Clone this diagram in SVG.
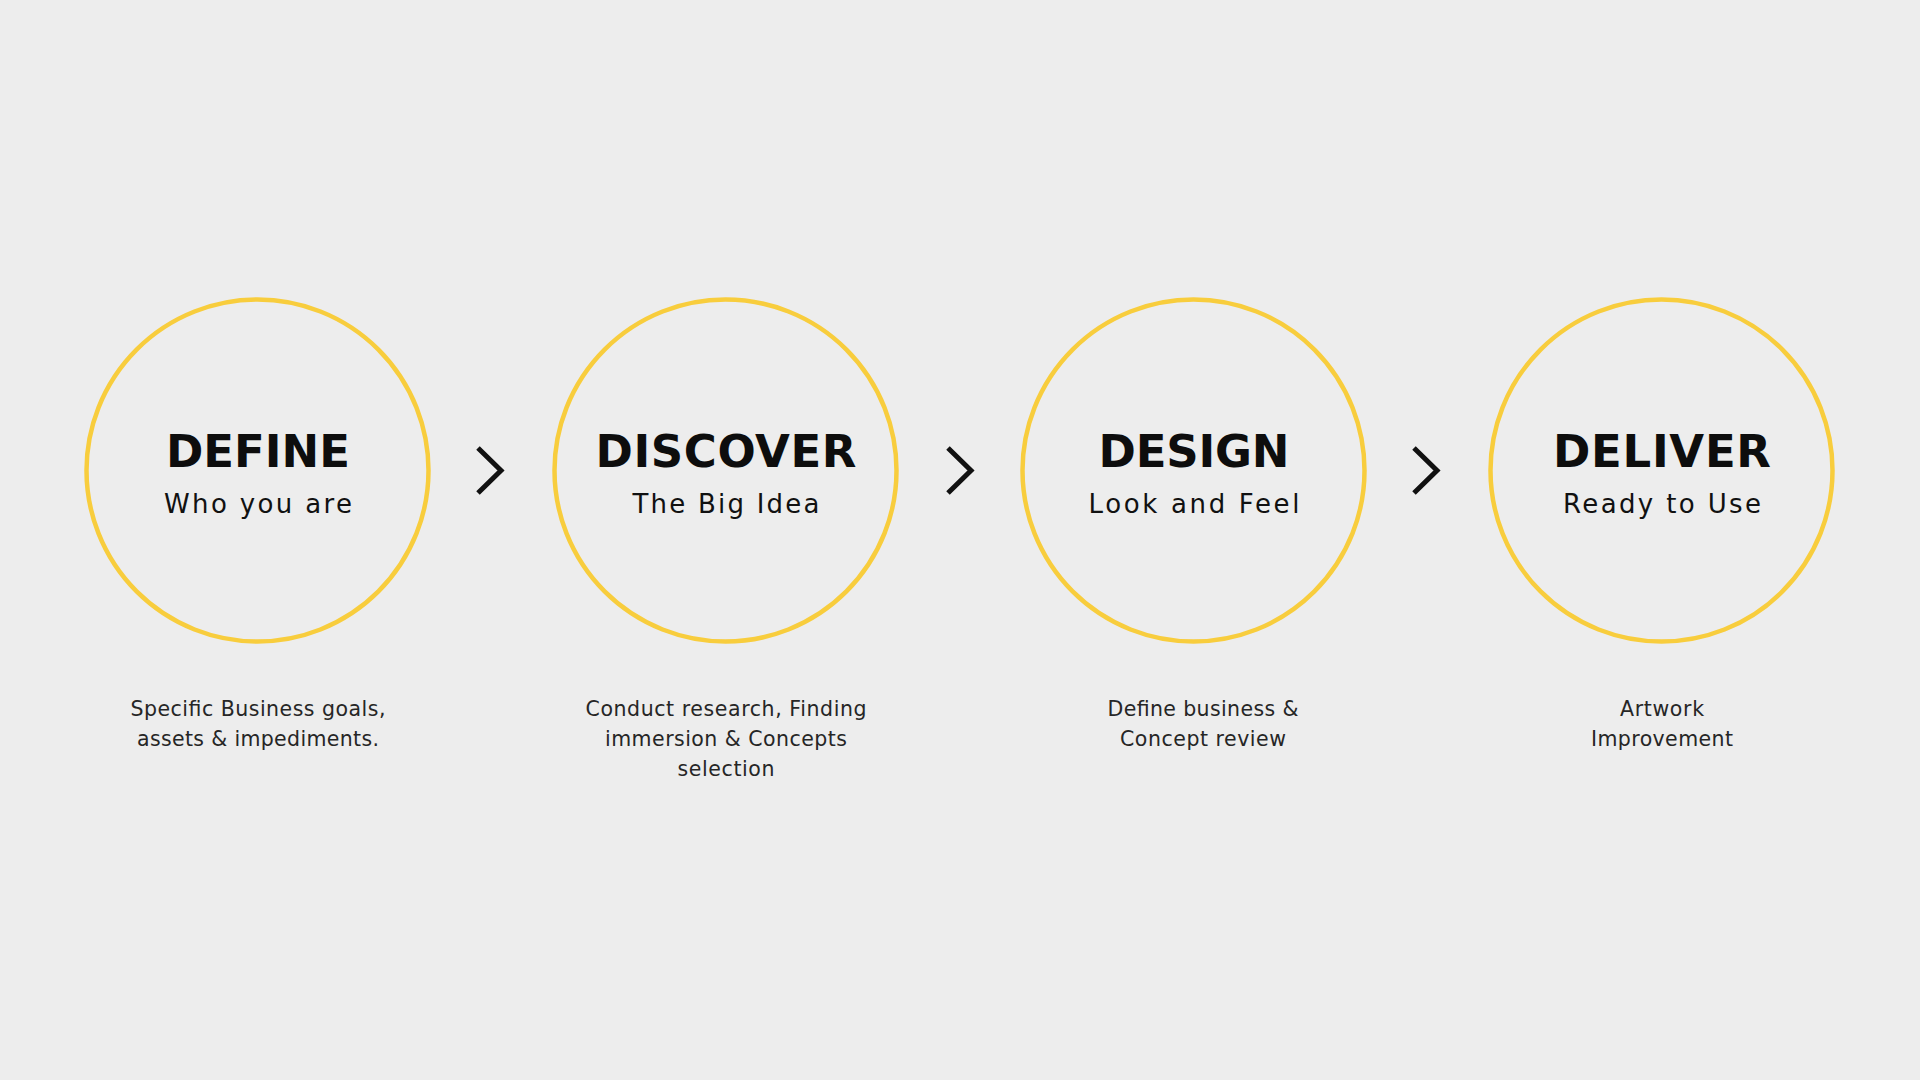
<svg xmlns="http://www.w3.org/2000/svg" width="1920" height="1080" viewBox="0 0 1920 1080">
<style>
.ring{fill:none;stroke:#F8CD3D;stroke-width:4.5}
.title{font-family:"DejaVu Sans","Liberation Sans",sans-serif;font-weight:700;font-size:45px;fill:#0d0d0d;text-anchor:middle}
.sub{font-family:"DejaVu Sans","Liberation Sans",sans-serif;font-weight:400;font-size:26px;fill:#111;text-anchor:middle}
.desc{font-family:"DejaVu Sans","Liberation Sans",sans-serif;font-weight:400;font-size:20.5px;fill:#262626;text-anchor:middle}
.chev{fill:none;stroke:#111;stroke-width:5;stroke-linecap:butt;stroke-linejoin:miter}
</style>
<rect width="1920" height="1080" fill="#EDEDED"/>
<g id="connectors">
<polyline class="chev" points="478,448 501,470.5 478,493"/>
<polyline class="chev" points="948,448 971,470.5 948,493"/>
<polyline class="chev" points="1414,448 1437,470.5 1414,493"/>
</g>
<g id="define">
<circle class="ring" cx="257.5" cy="470.5" r="171"/>
<text class="title" x="258" y="467" textLength="184" lengthAdjust="spacing">DEFINE</text>
<text class="sub" x="258" y="513" textLength="188" lengthAdjust="spacing">Who you are</text>
<text class="desc" x="258" y="716" textLength="255" lengthAdjust="spacing">Specific Business goals,</text>
<text class="desc" x="258" y="746" textLength="242" lengthAdjust="spacing">assets &amp; impediments.</text>
</g>
<g id="discover">
<circle class="ring" cx="725.5" cy="470.5" r="171"/>
<text class="title" x="726" y="467" textLength="261" lengthAdjust="spacing">DISCOVER</text>
<text class="sub" x="726" y="513" textLength="187" lengthAdjust="spacing">The Big Idea</text>
<text class="desc" x="726" y="716" textLength="281" lengthAdjust="spacing">Conduct research, Finding</text>
<text class="desc" x="726" y="746" textLength="242" lengthAdjust="spacing">immersion &amp; Concepts</text>
<text class="desc" x="726" y="776" textLength="97" lengthAdjust="spacing">selection</text>
</g>
<g id="design">
<circle class="ring" cx="1193.5" cy="470.5" r="171"/>
<text class="title" x="1194" y="467" textLength="191" lengthAdjust="spacing">DESIGN</text>
<text class="sub" x="1194" y="513" textLength="211" lengthAdjust="spacing">Look and Feel</text>
<text class="desc" x="1203" y="716" textLength="191" lengthAdjust="spacing">Define business &amp;</text>
<text class="desc" x="1203" y="746" textLength="166" lengthAdjust="spacing">Concept review</text>
</g>
<g id="deliver">
<circle class="ring" cx="1661.5" cy="470.5" r="171"/>
<text class="title" x="1662" y="467" textLength="218" lengthAdjust="spacing">DELIVER</text>
<text class="sub" x="1662" y="513" textLength="198" lengthAdjust="spacing">Ready to Use</text>
<text class="desc" x="1662" y="716" textLength="84" lengthAdjust="spacing">Artwork</text>
<text class="desc" x="1662" y="746" textLength="142" lengthAdjust="spacing">Improvement</text>
</g>
</svg>
